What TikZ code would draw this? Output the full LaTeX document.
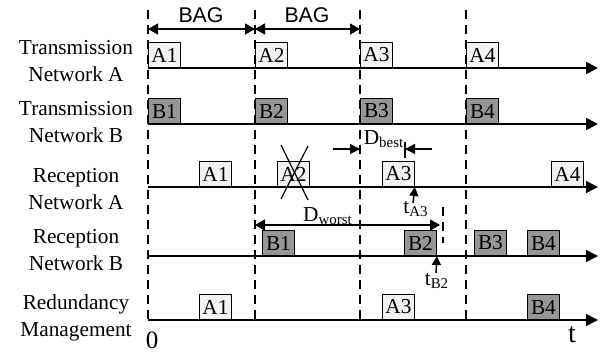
\documentclass[tikz,border=0pt]{standalone}
\usepackage{fontspec}
\setmainfont{Liberation Serif}
\newfontfamily\bagfont{Liberation Sans}
\usetikzlibrary{arrows.meta}
\definecolor{lightfill}{HTML}{F2F2F2}
\definecolor{darkfill}{HTML}{969696}
\begin{document}
\begin{tikzpicture}[x=0.5pt,y=-0.5pt,
  every node/.style={font=\fontsize{10.65}{13.5}\selectfont, inner sep=0pt},
  axis/.style={line width=0.75pt, -{Triangle[length=6pt,width=6pt]}},
  gridline/.style={line width=0.6pt, dash pattern=on 4.5pt off 3pt},
  pkt/.style={draw, line width=0.45pt, minimum width=16pt, minimum height=12.5pt, anchor=south west},
  lpkt/.style={pkt, fill=lightfill},
  dpkt/.style={pkt, fill=darkfill},
  rowlabel/.style={align=center},
  dimtwo/.style={line width=0.6pt, {Triangle[length=5pt,width=5.5pt]}-{Triangle[length=5pt,width=5.5pt]}},
  dimone/.style={line width=0.6pt, -{Triangle[length=5pt,width=5pt]}},
  tmark/.style={line width=0.75pt, -{Triangle[length=4.5pt,width=4.5pt]}},
  cross/.style={line width=0.6pt},
  plain/.style={line width=0.6pt},
  baglabel/.style={font=\bagfont\fontsize{10.65}{13.5}\selectfont},
  biglabel/.style={font=\fontsize{12.5}{15}\selectfont}
]
\useasboundingbox (0,0) rectangle (600,353);

% vertical dashed grid
\foreach \n/\xx in {1/148,2/255,3/360,4/466}{
  \coordinate (g\n t) at (\xx,10);
  \coordinate (g\n b) at (\xx,320);
  \draw[gridline] (g\n t) -- (g\n b);
}

% BAG dimension
\coordinate (bag0) at (148,29);
\coordinate (bag1) at (255,29);
\coordinate (bag2) at (360,29);
\draw[dimtwo] (bag0) -- (bag1);
\draw[dimtwo] (bag1) -- (bag2);
\node[baglabel] (bagA) at (201,15) {BAG};
\node[baglabel] (bagB) at (307,15) {BAG};

% row labels
\node[rowlabel] (lTA) at (76,61) {Transmission\\Network A};
\node[rowlabel] (lTB) at (76,122) {Transmission\\Network B};
\node[rowlabel] (lRA) at (76,189) {Reception\\Network A};
\node[rowlabel] (lRB) at (76,250) {Reception\\Network B};
\node[rowlabel] (lRM) at (76,318) {Redundancy\\Management};

% axes
\foreach \r/\yy in {TA/68,TB/124,RA/187,RB/256,RM/320}{
  \coordinate (\r s) at (148,\yy);
  \coordinate (\r e) at (598,\yy);
  \draw[axis] (\r s) -- (\r e);
}

% Transmission A
\node[lpkt] (ta1) at (148,68) {A1};
\node[lpkt] (ta2) at (255,68) {A2};
\node[lpkt] (ta3) at (360,68) {A3};
\node[lpkt] (ta4) at (466,68) {A4};
% Transmission B
\node[dpkt] (tb1) at (148,124) {B1};
\node[dpkt] (tb2) at (255,124) {B2};
\node[dpkt] (tb3) at (360,124) {B3};
\node[dpkt] (tb4) at (466,124) {B4};
% Reception A
\node[lpkt] (ra1) at (199,187) {A1};
\node[lpkt] (ra2) at (277,187) {A2};
\node[lpkt] (ra3) at (382,187) {A3};
\node[lpkt] (ra4) at (551,187) {A4};
% Reception B
\node[dpkt] (rb1) at (262,256) {B1};
\node[dpkt] (rb2) at (404,256) {B2};
\node[dpkt] (rb3) at (474,256) {B3};
\node[dpkt] (rb4) at (527,256) {B4};
% Redundancy Management
\node[lpkt] (rm1) at (199,320) {A1};
\node[lpkt] (rm3) at (382,320) {A3};
\node[dpkt] (rm4) at (527,320) {B4};

% cross over lost A2
\coordinate (x1) at (281,145);
\coordinate (x2) at (308,200);
\coordinate (x3) at (308,146);
\coordinate (x4) at (281,199);
\draw[cross] (x1) -- (x2);
\draw[cross] (x3) -- (x4);

% D_best
\coordinate (dbl0) at (333,149);
\coordinate (dbl1) at (360,149);
\coordinate (dbr0) at (432,149);
\coordinate (dbr1) at (405,149);
\coordinate (dbt1) at (405,142);
\coordinate (dbt2) at (405,158);
\draw[dimone] (dbl0) -- (dbl1);
\draw[dimone] (dbr0) -- (dbr1);
\draw[plain] (dbt1) -- (dbt2);
\node (dbest) at (384,139) {D\textsubscript{best}};

% D_worst
\coordinate (dwl) at (255,225);
\coordinate (dwr) at (440,225);
\draw[dimtwo] (dwl) -- (dwr);
\coordinate (dwe1) at (443,207);
\coordinate (dwe2) at (443,243);
\draw[gridline] (dwe1) -- (dwe2);
\node (dworst) at (328,216) {D\textsubscript{worst}};

% time marks
\coordinate (ta3tail) at (413,203);
\draw[tmark] (ta3tail) -- (ra3.south east);
\node (tA3) at (416,209) {t\textsubscript{A3}};
\coordinate (tb2tail) at (436,273);
\draw[tmark] (tb2tail) -- (rb2.south east);
\node (tB2) at (437,281) {t\textsubscript{B2}};

% origin and time labels
\node[biglabel] (zero) at (152,340) {0};
\node[font=\fontsize{14}{16}\selectfont] (tlab) at (572,335) {t};
\end{tikzpicture}
\end{document}
